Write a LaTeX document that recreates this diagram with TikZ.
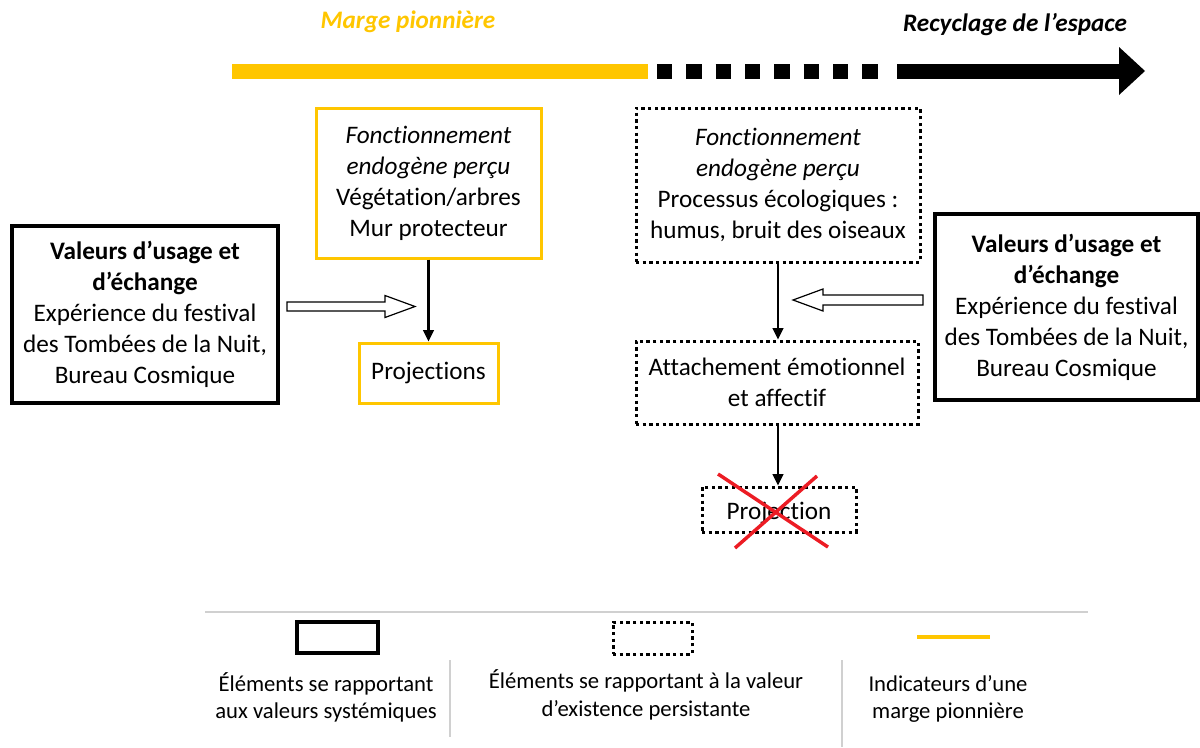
\documentclass[tikz,border=0pt]{standalone}
\usepackage{fontspec}
\setmainfont{Carlito}[Ligatures=NoCommon]
\usetikzlibrary{arrows.meta,calc}
\definecolor{gold}{RGB}{255,198,0}
\definecolor{redx}{RGB}{236,28,36}
\definecolor{lgray}{RGB}{208,208,208}
\begin{document}
\begin{tikzpicture}[x=0.75pt,y=-0.75pt,
  txt/.style={font=\fontsize{18.9}{23.25}\selectfont, align=center, inner sep=0pt},
  legtxt/.style={font=\fontsize{17}{20.5}\selectfont, align=center, inner sep=0pt},
  solidbox/.style={draw=black, line width=3pt, txt},
  goldbox/.style={draw=gold, line width=2.25pt, txt},
  dotbox/.style={draw=black, line width=2.25pt, dash pattern=on 2.6pt off 2.4pt, txt},
  flow/.style={draw=black, line width=1.6pt, -{Triangle[length=8.5pt,width=8pt]}},
  hollow/.style={draw=black, line width=0.9pt, fill=white},
  sep/.style={draw=lgray, line width=1.1pt}
]
\useasboundingbox (0,0) rectangle (1200,747);

% titles
\node[txt, text=gold, font=\fontsize{18.9}{23.25}\selectfont\bfseries\itshape] (t1) at (408,22) {Marge pionnière};
\node[txt, font=\fontsize{18.9}{23.25}\selectfont\bfseries\itshape] (t2) at (1015,25) {Recyclage de l’espace};

% top timeline
\coordinate (ya) at (232,71);
\coordinate (yb) at (648,71);
\coordinate (da) at (657,71);
\coordinate (db) at (885,71);
\coordinate (ba) at (897,71);
\coordinate (bb) at (1121,71);
\coordinate (tip) at (1145,71);
\draw[gold, line width=11.25pt] (ya) -- (yb);
\draw[black, line width=11.25pt, dash pattern=on 11.4pt off 10.6pt] (da) -- (db);
\draw[black, line width=11.25pt] (ba) -- (bb);
\fill[black] ($(bb)+(-2,-24)$) -- (tip) -- ($(bb)+(-2,24)$) -- cycle;

% left side
\node[solidbox, minimum width=266*0.75pt, minimum height=177*0.75pt] (L) at (145,314.5)
  {\textbf{Valeurs d’usage et}\\\textbf{d’échange}\\Expérience du festival\\des Tombées de la Nuit,\\Bureau Cosmique};
\node[goldbox, minimum width=225*0.75pt, minimum height=150*0.75pt] (Y1) at (428.5,183)
  {\textit{Fonctionnement}\\\textit{endogène perçu}\\Végétation/arbres\\Mur protecteur};
\node[goldbox, minimum width=139*0.75pt, minimum height=60*0.75pt] (P1) at (428.5,373) {Projections};
\draw[flow] (Y1.south) -- (P1.north);

% left hollow arrow
\coordinate (ha) at (287,306.5);
\draw[hollow] (ha) ++(0,-4.5) -- ++(98,0) -- ++(0,-6.5) -- (415,306.5) -- (385,317.5) -- ++(0,-6.5) -- ++(-98,0) -- cycle;

% right side
\node[dotbox, minimum width=284*0.75pt, minimum height=154*0.75pt] (D2) at (778,185)
  {\textit{Fonctionnement}\\\textit{endogène perçu}\\Processus écologiques :\\humus, bruit des oiseaux};
\node[dotbox, minimum width=282*0.75pt, minimum height=83*0.75pt] (A2) at (777,382.5)
  {Attachement émotionnel\\et affectif};
\node[dotbox, minimum width=154*0.75pt, minimum height=45*0.75pt, text depth=0pt] (P2) at (779,509.5) {\raisebox{-2pt}{Projection}};
\draw[flow] (D2.south -| 778,0) -- (A2.north -| 778,0);
\draw[flow] (A2.south -| 778,0) -- (P2.north -| 778,0);
\draw[redx, line width=2.6pt] (718,474) -- (828,547);
\draw[redx, line width=2.6pt] (817,476) -- (735,548);

\node[solidbox, minimum width=263*0.75pt, minimum height=186*0.75pt] (R) at (1066.5,307)
  {\textbf{Valeurs d’usage et}\\\textbf{d’échange}\\Expérience du festival\\des Tombées de la Nuit,\\Bureau Cosmique};

% right hollow arrow
\coordinate (hb) at (923,300);
\draw[hollow] (hb) ++(0,-5) -- (823,295) -- (823,289) -- (793,300) -- (823,311) -- (823,305) -- (923,305) -- cycle;

% legend
\coordinate (s1) at (205,612);
\coordinate (s2) at (1088,612);
\draw[sep] (s1) -- (s2);
\coordinate (v1a) at (450,660); \coordinate (v1b) at (450,737);
\coordinate (v2a) at (842,660); \coordinate (v2b) at (842,747);
\draw[sep] (v1a) -- (v1b);
\draw[sep] (v2a) -- (v2b);
\node[draw=black, line width=3pt, minimum width=81*0.75pt, minimum height=31*0.75pt, inner sep=0pt] (lg1) at (337.5,637.5) {};
\node[draw=black, line width=2.25pt, dash pattern=on 2.6pt off 2.4pt, minimum width=79*0.75pt, minimum height=32*0.75pt, inner sep=0pt] (lg2) at (652.5,638) {};
\coordinate (lg3a) at (917,637);
\coordinate (lg3b) at (990,637);
\draw[gold, line width=3pt] (lg3a) -- (lg3b);

\node[legtxt] (lt1) at (326,697.5) {Éléments se rapportant\\aux valeurs systémiques};
\node[legtxt] (lt2) at (646,695) {Éléments se rapportant à la valeur\\d’existence persistante};
\node[legtxt] (lt3) at (948,699) {Indicateurs d’une\\marge pionnière};
\end{tikzpicture}
\end{document}
